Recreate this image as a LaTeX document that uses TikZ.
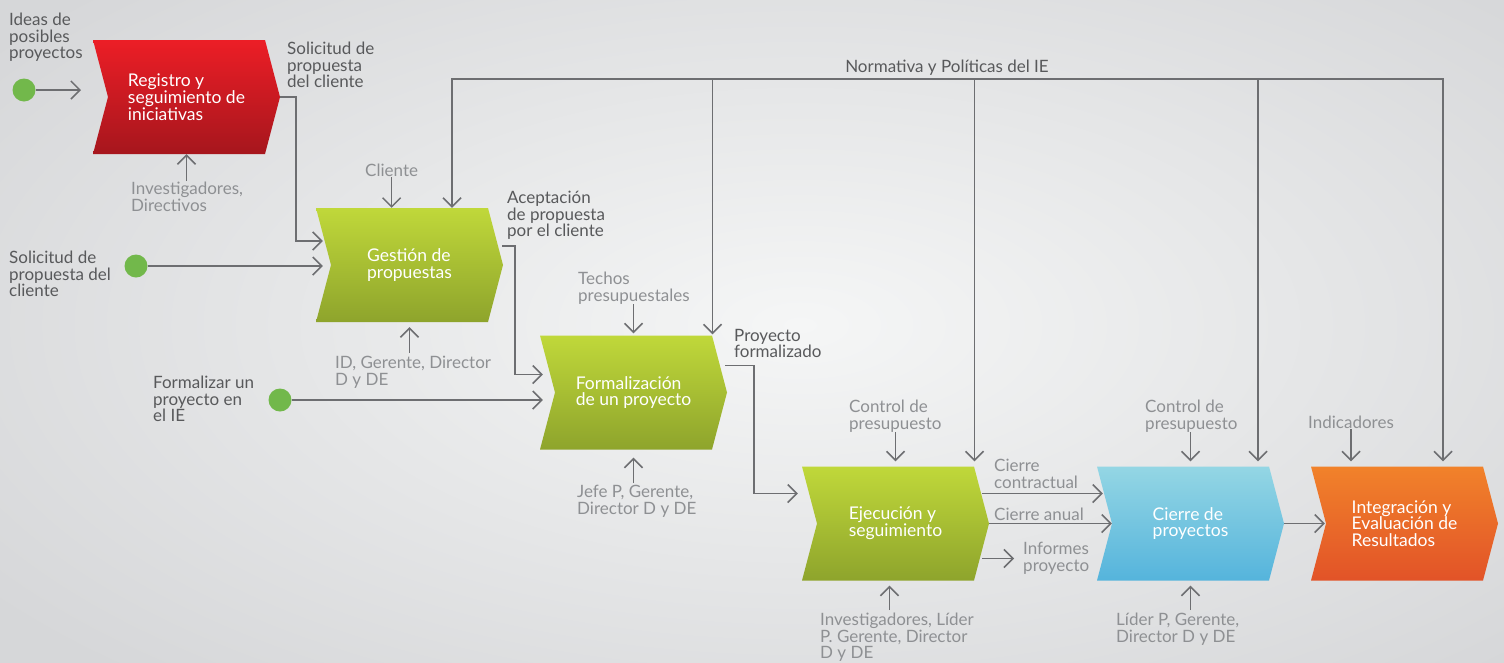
\documentclass[tikz,border=0pt]{standalone}
\usepackage{fontspec}
\setmainfont{Lato}
\usetikzlibrary{arrows.meta,calc}
\definecolor{linegray}{HTML}{6D6E71}
\definecolor{darktext}{HTML}{58595B}
\definecolor{lighttext}{HTML}{8E9093}
\definecolor{dotgreen}{HTML}{72B84B}
\tikzset{
	flow/.style={draw=linegray, line width=1.5pt, -{Straight Barb[length=9pt,width=18pt]}},
	dot/.style={circle, fill=dotgreen, minimum size=23pt, inner sep=0pt},
	boxtext/.style={minimum width=187pt, minimum height=114pt, inner sep=0pt, align=left, text=white, font=\fontsize{17.5}{16.8}\selectfont},
	note/.style={anchor=north west, inner sep=0pt, align=left, text=darktext, font=\fontsize{17}{16.5}\selectfont},
	aside/.style={note, text=lighttext},
	redbox/.style={top color={rgb,255:red,236;green,30;blue,38}, bottom color={rgb,255:red,166;green,22;blue,29}},
	greenbox/.style={top color={rgb,255:red,192;green,216;blue,58}, middle color={rgb,255:red,160;green,186;blue,48}, bottom color={rgb,255:red,142;green,164;blue,44}},
	bluebox/.style={top color={rgb,255:red,148;green,214;blue,228}, middle color={rgb,255:red,98;green,186;blue,223}, bottom color={rgb,255:red,85;green,180;blue,220}},
	orangebox/.style={top color={rgb,255:red,241;green,130;blue,42}, bottom color={rgb,255:red,226;green,83;blue,40}}
}
\def\chevron(#1)(#2)[#3]#4{\shade[#3, shift={(#2)}] (-93.5,-57) -- (78.5,-57) -- (93.5,0) -- (78.5,57) -- (-93.5,57) -- (-78.5,0) -- cycle; \node[boxtext] (#1) at (#2) {#4};}

\begin{document}
\begin{tikzpicture}[x=1pt, y=-1pt]
	%%%%% START %%%%%
	\useasboundingbox (0,0) rectangle (1504,662);
	\shade[inner color={rgb,255:red,245;green,246;blue,246}, outer color={rgb,255:red,214;green,215;blue,217}] (-200,-150) rectangle (1800,800);

	\chevron(reg)(186.5,97)[redbox]{Registro y\\seguimiento de\\iniciativas}
	\chevron(ges)(409.5,265)[greenbox]{Gestión de\\propuestas}
	\chevron(frm)(633.5,392.5)[greenbox]{Formalización\\de un proyecto}
	\chevron(eje)(895.5,523.5)[greenbox]{Ejecución y\\seguimiento}
	\chevron(cie)(1190.5,523.5)[bluebox]{Cierre de\\proyectos}
	\chevron(int)(1404.5,523.5)[orangebox]{Integración y\\Evaluación de\\Resultados}

	% entradas
	\node[note] (ideas) at (9,13) {Ideas de\\posibles\\proyectos};
	\node[dot] (d1) at (24,90) {};
	\coordinate (d1end) at (81,90);
	\draw[flow] (d1) -- (d1end);

	\node[note] (sol2) at (9,251) {Solicitud de\\propuesta del\\cliente};
	\node[dot] (d2) at (136,266) {};
	\draw[flow] (d2) -- ([xshift=7pt]d2 -| ges.west);

	\node[note] (fml) at (153,376) {Formalizar un\\proyecto en\\el IE};
	\node[dot] (d3) at (280,400) {};
	\draw[flow] (d3) -- ([xshift=3pt]d3 -| frm.west);

	% salidas
	\node[note] (sol1) at (287,42) {Solicitud de\\propuesta\\del cliente};
	\draw[flow] (reg.east) -| ([xshift=-20pt,yshift=24pt]ges.west) -- ([xshift=7pt,yshift=24pt]ges.west);

	\node[note] (acep) at (507,191) {Aceptación\\de propuesta\\por el cliente};
	\draw[flow] ([xshift=-1pt,yshift=19pt]ges.east) -| ([xshift=-25pt,yshift=18pt]frm.west) -- ([xshift=3pt,yshift=18pt]frm.west);

	\node[note] (pfor) at (734,329) {Proyecto\\formalizado};
	\draw[flow] ([xshift=-2pt,yshift=27pt]frm.east) -| ([xshift=-48pt,yshift=30pt]eje.west) -- ([xshift=-4pt,yshift=30pt]eje.west);

	\node[aside] (cc) at (994,459) {Cierre\\contractual};
	\draw[flow] ([xshift=-7pt,yshift=30pt]eje.east) -- ([xshift=6pt,yshift=30pt]cie.west);
	\node[aside] (ca) at (994,508) {Cierre anual};
	\draw[flow] (eje.east) -- ([xshift=15pt]cie.west);
	\node[aside] (inf) at (1023,542) {Informes\\proyecto};
	\draw[flow, shorten >=2pt] ([xshift=-7pt,yshift=-35pt]eje.east) -- ([xshift=-7pt,yshift=-35pt]eje.east -| inf.west);

	\draw[flow] (cie.east) -- ([xshift=14pt]int.west);

	% recursos y controles
	\node[aside] (inv1) at (131,182) {Investigadores,\\Directivos};
	\draw[flow] ([yshift=1pt]inv1.north -| reg) -- (reg.south);

	\node[aside] (cli) at (365,164) {Cliente};
	\draw[flow] (cli.south) -- (cli.south |- ges.north);
	\node[aside] (idg) at (335,356) {ID, Gerente, Director\\D y DE};
	\draw[flow] ([yshift=3pt]idg.north -| ges) -- ([yshift=-5pt]ges.south);

	\node[aside] (techo) at (578,272) {Techos\\presupuestales};
	\draw[flow, shorten >=2pt] (techo.south -| frm) -- (frm.north);
	\node[aside] (jefe) at (577,485) {Jefe P, Gerente,\\Director D y DE};
	\draw[flow] ([yshift=2pt]jefe.north -| frm) -- ([yshift=-8pt]frm.south);

	\node[aside] (ctl1) at (849,400) {Control de\\presupuesto};
	\draw[flow, shorten >=5pt] (ctl1.south -| eje) -- (eje.north);
	\node[aside] (inv2) at (820,613) {Investigadores, Líder\\P. Gerente, Director\\D y DE};
	\draw[flow] ($(inv2.north -| eje)+(-6,-3)$) -- ($(eje.south)+(-6,5)$);

	\node[aside] (ctl2) at (1145,400) {Control de\\presupuesto};
	\draw[flow, shorten >=5pt] (ctl2.south -| cie) -- (cie.north);
	\node[aside] (lid) at (1116,613) {Líder P, Gerente,\\Director D y DE};
	\draw[flow] ([yshift=3pt]lid.north -| cie) -- ([yshift=-5pt]cie.south);

	\node[aside] (indi) at (1308,416) {Indicadores};
	\draw[flow, shorten >=5pt] (indi.south) -- (indi.south |- int.north);

	% normativa
	\node[note, anchor=center] (norm) at (947,68) {Normativa y Políticas del IE};
	\coordinate (n1) at (452,79);
	\coordinate (n2) at (712.5,79);
	\coordinate (n3) at (974.5,79);
	\coordinate (n4) at (1258,79);
	\coordinate (n5) at (1443,79);
	\draw[linegray, line width=1.5pt, line cap=rect] (n1) -- (n5);
	\draw[flow] (n1) -- (n1 |- ges.north);
	\draw[flow, shorten >=1pt] (n2) -- (n2 |- frm.north);
	\draw[flow, shorten >=5pt] (n3) -- (n3 |- eje.north);
	\draw[flow, shorten >=5pt] (n4) -- (n4 |- cie.north);
	\draw[flow, shorten >=5pt] (n5) -- (n5 |- int.north);

	%%%%% END %%%%%
\end{tikzpicture}
\end{document}
